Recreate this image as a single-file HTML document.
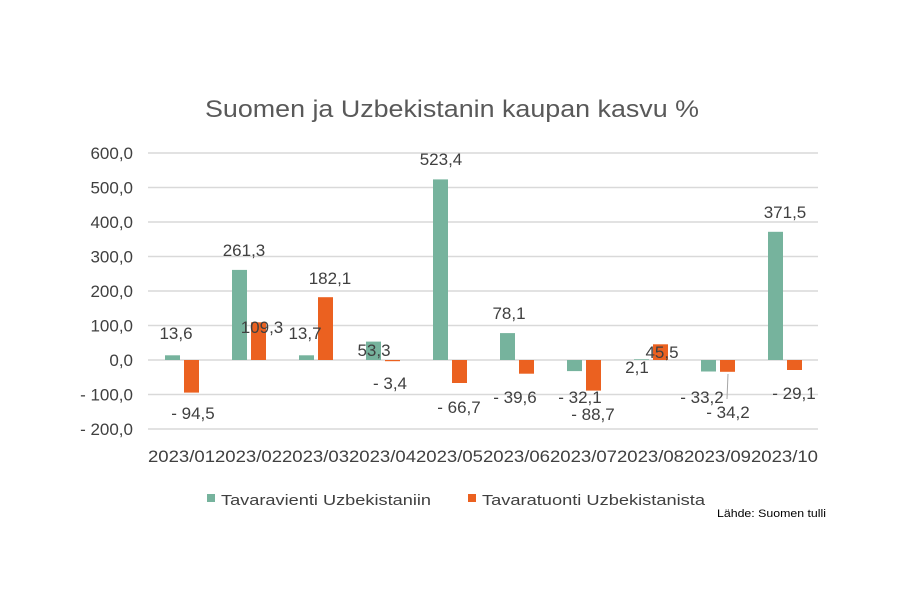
<!DOCTYPE html>
<html><head><meta charset="utf-8"><style>body{margin:0;background:#fff}svg{display:block}text{font-family:"Liberation Sans",sans-serif;fill:#404040}</style></head><body>
<svg width="900" height="600" xmlns="http://www.w3.org/2000/svg">
<rect width="900" height="600" fill="#fff"/>
<text x="452" y="117" font-size="24" text-anchor="middle" fill="#595959" style="fill:#595959" textLength="494" lengthAdjust="spacingAndGlyphs">Suomen ja Uzbekistanin kaupan kasvu %</text>
<g stroke="#d9d9d9" stroke-width="1.5">
<line x1="148" x2="818" y1="153" y2="153"/><line x1="148" x2="818" y1="187.5" y2="187.5"/><line x1="148" x2="818" y1="222" y2="222"/><line x1="148" x2="818" y1="256.5" y2="256.5"/><line x1="148" x2="818" y1="291" y2="291"/><line x1="148" x2="818" y1="325.5" y2="325.5"/><line x1="148" x2="818" y1="360" y2="360"/><line x1="148" x2="818" y1="394.5" y2="394.5"/><line x1="148" x2="818" y1="429" y2="429"/>
</g>
<g font-size="17" text-anchor="end">
<text x="133" y="159">600,0</text><text x="133" y="193.5">500,0</text><text x="133" y="228">400,0</text><text x="133" y="262.5">300,0</text><text x="133" y="297">200,0</text><text x="133" y="331.5">100,0</text><text x="133" y="366">0,0</text><text x="133" y="400.5">- 100,0</text><text x="133" y="435">- 200,0</text>
</g>
<g fill="#76b39d">
<rect x="165" y="355.3" width="15" height="4.7"/>
<rect x="232" y="269.9" width="15" height="90.1"/>
<rect x="299" y="355.3" width="15" height="4.7"/>
<rect x="366" y="341.6" width="15" height="18.4"/>
<rect x="433" y="179.4" width="15" height="180.6"/>
<rect x="500" y="333.1" width="15" height="26.9"/>
<rect x="567" y="360" width="15" height="11.1"/>
<rect x="634" y="359.3" width="15" height="0.7"/>
<rect x="701" y="360" width="15" height="11.5"/>
<rect x="768" y="231.8" width="15" height="128.2"/>
</g>
<g fill="#eb6120">
<rect x="184" y="360" width="15" height="32.6"/>
<rect x="251" y="322.3" width="15" height="37.7"/>
<rect x="318" y="297.2" width="15" height="62.8"/>
<rect x="385" y="360" width="15" height="1.2"/>
<rect x="452" y="360" width="15" height="23"/>
<rect x="519" y="360" width="15" height="13.7"/>
<rect x="586" y="360" width="15" height="30.6"/>
<rect x="653" y="344.3" width="15" height="15.7"/>
<rect x="720" y="360" width="15" height="11.8"/>
<rect x="787" y="360" width="15" height="10"/>
</g>
<line x1="728" y1="374" x2="727" y2="399" stroke="#a6a6a6" stroke-width="1"/>
<g font-size="17" text-anchor="middle">
<text x="176" y="339">13,6</text>
<text x="193" y="419">- 94,5</text>
<text x="244" y="256">261,3</text>
<text x="262" y="333">109,3</text>
<text x="305" y="339">13,7</text>
<text x="330" y="284">182,1</text>
<text x="374" y="356">53,3</text>
<text x="390" y="389">- 3,4</text>
<text x="441" y="165">523,4</text>
<text x="459" y="413">- 66,7</text>
<text x="509" y="319">78,1</text>
<text x="515" y="403">- 39,6</text>
<text x="580" y="403">- 32,1</text>
<text x="593" y="420">- 88,7</text>
<text x="637" y="373">2,1</text>
<text x="662" y="358">45,5</text>
<text x="702" y="403">- 33,2</text>
<text x="728" y="418">- 34,2</text>
<text x="794" y="399">- 29,1</text>
<text x="785" y="218">371,5</text>
</g>
<g font-size="17">
<text x="148" y="462" textLength="670" lengthAdjust="spacingAndGlyphs">2023/012023/022023/032023/042023/052023/062023/072023/082023/092023/10</text>
</g>
<rect x="207" y="494" width="8" height="8" fill="#76b39d"/>
<text x="221" y="505" font-size="15" textLength="210" lengthAdjust="spacingAndGlyphs">Tavaravienti Uzbekistaniin</text>
<rect x="468" y="494" width="8" height="8" fill="#eb6120"/>
<text x="482" y="505" font-size="15" textLength="223" lengthAdjust="spacingAndGlyphs">Tavaratuonti Uzbekistanista</text>
<text x="717" y="517" font-size="11" style="fill:#000" textLength="109" lengthAdjust="spacingAndGlyphs">Lähde: Suomen tulli</text>
</svg>
</body></html>
